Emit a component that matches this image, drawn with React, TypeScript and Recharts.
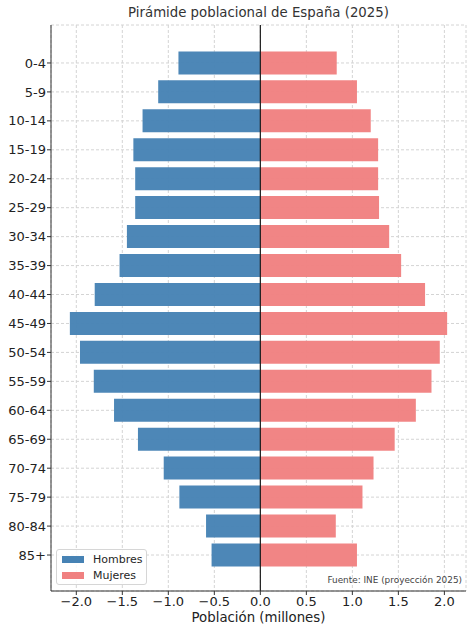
import React from "react";
import {
  BarChart,
  Bar,
  XAxis,
  YAxis,
  CartesianGrid,
  ReferenceLine,
} from "recharts";

// Grupos de edad (de arriba abajo) y población en millones
const grupos = [
  "0-4", "5-9", "10-14", "15-19", "20-24", "25-29", "30-34", "35-39", "40-44",
  "45-49", "50-54", "55-59", "60-64", "65-69", "70-74", "75-79", "80-84", "85+",
];
const hombres = [
  0.89, 1.11, 1.28, 1.38, 1.36, 1.36, 1.45, 1.53, 1.8,
  2.07, 1.96, 1.81, 1.59, 1.33, 1.05, 0.88, 0.59, 0.53,
];
const mujeres = [
  0.83, 1.05, 1.2, 1.28, 1.28, 1.29, 1.4, 1.53, 1.79,
  2.03, 1.95, 1.86, 1.69, 1.46, 1.23, 1.11, 0.82, 1.05,
];
const xTicks = [-2, -1.5, -1, -0.5, 0, 0.5, 1, 1.5, 2];

const COLOR_H = "#4682B4";
const COLOR_M = "#F08080";
const FONT = "'DejaVu Sans', Verdana, sans-serif";

const data = grupos.map((g, i) => ({
  grupo: g,
  Hombres: -hombres[i],
  Mujeres: mujeres[i],
}));

const fmt = (v: number) => v.toFixed(1).replace("-", "\u2212");

// leyenda en la esquina inferior izquierda, sin reservar espacio en el gráfico
function LegendBox() {
  const items = [
    { name: "Hombres", color: COLOR_H },
    { name: "Mujeres", color: COLOR_M },
  ];
  return (
    <div
      style={{
        position: "absolute",
        left: 56,
        top: 549,
        width: 91,
        height: 36,
        boxSizing: "border-box",
        border: "1px solid #d6d6d6",
        borderRadius: 3,
        background: "rgba(255,255,255,0.85)",
        padding: "1px 0 0 5px",
        fontSize: 11,
        color: "#262626",
      }}
    >
      {items.map((it) => (
        <div key={it.name} style={{ display: "flex", alignItems: "center", height: 16.4 }}>
          <span style={{ width: 22, height: 7, background: it.color, marginRight: 9 }} />
          <span>{it.name}</span>
        </div>
      ))}
    </div>
  );
}

export default function App() {
  return (
    <div style={{ position: "relative", width: 474, height: 634, background: "#fff", fontFamily: FONT }}>
      <style>{"body{margin:0}"}</style>
      <div
        style={{
          position: "absolute",
          left: 51,
          width: 415,
          top: 5,
          textAlign: "center",
          fontSize: 13.3,
          color: "#333",
        }}
      >
        Pirámide poblacional de España (2025)
      </div>
      <BarChart
        width={474}
        height={634}
        data={data}
        layout="vertical"
        stackOffset="sign"
        barCategoryGap="10%"
        margin={{ top: 25, right: 8, bottom: 0, left: 0 }}
      >
        <CartesianGrid stroke="#d4d4d4" strokeDasharray="3 2" />
        <XAxis
          type="number"
          domain={[-2.275, 2.235]}
          ticks={xTicks}
          allowDataOverflow
          tickFormatter={fmt}
          height={43}
          tickSize={4}
          tickMargin={2}
          stroke="#333"
          tick={{ fill: "#222", fontSize: 13, fontFamily: FONT }}
        />
        <YAxis
          type="category"
          dataKey="grupo"
          width={51}
          padding={{ top: 23.5, bottom: 21.5 }}
          tickSize={4}
          tickMargin={1}
          stroke="#333"
          tick={{ fill: "#222", fontSize: 13, fontFamily: FONT }}
        />
        <Bar dataKey="Hombres" stackId="p" fill={COLOR_H} fillOpacity={0.96} isAnimationActive={false} />
        <Bar dataKey="Mujeres" stackId="p" fill={COLOR_M} fillOpacity={0.96} isAnimationActive={false} />
        <ReferenceLine x={0} stroke="#1a1a1a" strokeWidth={1.2} />
      </BarChart>
      <LegendBox />
      <div
        style={{
          position: "absolute",
          right: 12,
          top: 575,
          fontSize: 8.9,
          color: "#444",
        }}
      >
        Fuente: INE (proyección 2025)
      </div>
      <div
        style={{
          position: "absolute",
          left: 51,
          width: 415,
          top: 610,
          textAlign: "center",
          fontSize: 13.3,
          color: "#222",
        }}
      >
        Población (millones)
      </div>
    </div>
  );
}
